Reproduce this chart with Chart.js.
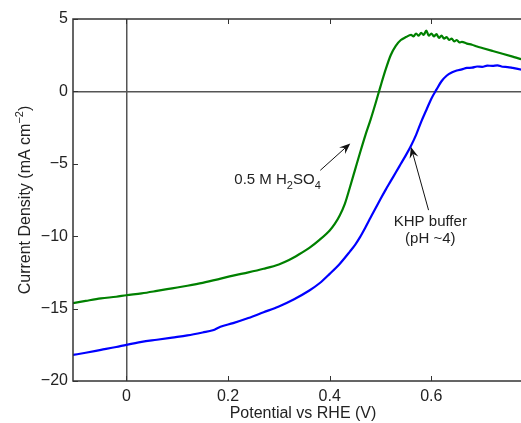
<!DOCTYPE html>
<html><head><meta charset="utf-8">
<script src="https://cdn.jsdelivr.net/npm/chart.js@4"></script>
<style>
html,body{margin:0;padding:0;background:#fff;overflow:hidden}
#wrap{width:521px;height:423px;overflow:hidden;position:relative}
canvas{display:block}
</style>
</head><body>
<div id="wrap"><canvas id="c" width="540" height="423"></canvas></div>
<script>
// ---- data ----
const h2so4V = [-0.105,-0.08,-0.05,-0.02,0,0.03,0.06,0.09,0.12,0.15,0.18,0.21,0.24,0.27,0.30,0.32,0.34,0.36,0.38,0.40,0.41,0.42,0.43,0.44,0.45,0.46,0.47,0.48,0.49,0.50,0.51,0.52,0.53,0.54,0.55,0.56,0.565,0.57,0.575,0.58,0.585,0.59,0.595,0.60,0.605,0.61,0.615,0.62,0.625,0.63,0.635,0.64,0.645,0.65,0.655,0.66,0.67,0.68,0.69,0.70,0.72,0.74,0.76,0.78,0.80];
const h2so4J = [-14.62,-14.47,-14.3,-14.18,-14.08,-13.95,-13.78,-13.6,-13.42,-13.22,-12.98,-12.72,-12.5,-12.25,-11.95,-11.65,-11.25,-10.8,-10.25,-9.6,-9.15,-8.55,-7.75,-6.6,-5.4,-4.2,-3.05,-2.0,-0.85,0.35,1.5,2.5,3.15,3.55,3.75,3.9,3.8,4.0,3.85,4.05,3.9,4.2,3.85,4.0,3.8,3.95,3.7,3.85,3.65,3.75,3.55,3.65,3.45,3.55,3.38,3.42,3.3,3.22,3.1,3.0,2.8,2.6,2.4,2.2,2.05];
const khpV = [-0.105,-0.08,-0.05,-0.02,0,0.03,0.06,0.09,0.12,0.15,0.17,0.185,0.21,0.24,0.27,0.30,0.33,0.36,0.38,0.40,0.42,0.44,0.45,0.46,0.47,0.48,0.49,0.50,0.51,0.52,0.53,0.54,0.55,0.56,0.57,0.58,0.59,0.60,0.61,0.62,0.63,0.64,0.65,0.66,0.67,0.68,0.69,0.70,0.71,0.72,0.73,0.74,0.75,0.76,0.78,0.80];
const khpJ = [-18.2,-18.05,-17.85,-17.65,-17.5,-17.3,-17.15,-17.0,-16.85,-16.65,-16.5,-16.25,-16.0,-15.65,-15.25,-14.85,-14.35,-13.75,-13.25,-12.6,-11.9,-11.05,-10.6,-10.05,-9.42,-8.75,-8.08,-7.43,-6.8,-6.2,-5.6,-5.0,-4.4,-3.75,-3.0,-2.1,-1.3,-0.5,0.12,0.7,1.08,1.3,1.44,1.52,1.62,1.64,1.72,1.70,1.78,1.76,1.8,1.7,1.68,1.62,1.48,1.32];
const xTicks = [0, 0.2, 0.4, 0.6];
const yTicks = [-20, -15, -10, -5, 0, 5];
const xTitle = 'Potential vs RHE (V)';
const yTitleMain = 'Current Density (mA cm';
const yTitleSup = '\u22122';
const yTitleEnd = ')';

// ---- annotation placement (data units) ----
const labels = [
  {parts:[['0.5 M H',0],['2',1],['SO',0],['4',1]], x:0.2124, y:-6.41, align:'left'},
  {parts:[['KHP buffer',0]], x:0.598, y:-9.31, align:'center'},
  {parts:[['(pH ~4)',0]], x:0.598, y:-10.46, align:'center'}
];
const arrows = [
  {from:[0.3815,-5.45], to:[0.4405,-3.59]},
  {from:[0.5945,-8.2], to:[0.56,-3.84]}
];

const FONT = '"Liberation Sans", Arial, Helvetica, sans-serif';
const TXT = '#222';

const fmtX = v => v === 0 ? '0' : v.toFixed(1);
const fmtY = v => v < 0 ? '\u2212' + Math.abs(v) : String(v);

const frame = {
  id: 'frame',
  afterDraw(chart) {
    const {ctx, chartArea: a, scales: {x, y}} = chart;
    ctx.save();
    ctx.strokeStyle = '#333'; ctx.lineWidth = 1.5;
    ctx.strokeRect(a.left, a.top, a.right - a.left, a.bottom - a.top);
    ctx.beginPath();
    x.ticks.forEach(t => {
      const p = Math.round(x.getPixelForValue(t.value)) + 0.5;
      ctx.moveTo(p, a.bottom); ctx.lineTo(p, a.bottom - 5);
      ctx.moveTo(p, a.top); ctx.lineTo(p, a.top + 5);
    });
    y.ticks.forEach(t => {
      const p = Math.round(y.getPixelForValue(t.value)) + 0.5;
      ctx.moveTo(a.left, p); ctx.lineTo(a.left + 5, p);
      ctx.moveTo(a.right, p); ctx.lineTo(a.right - 5, p);
    });
    ctx.lineWidth = 1; ctx.stroke();

    const big = '16px ' + FONT, small = '11px ' + FONT;
    ctx.fillStyle = TXT;
    ctx.font = big; const w1 = ctx.measureText(yTitleMain).width; const w3 = ctx.measureText(yTitleEnd).width;
    ctx.font = small; const w2 = ctx.measureText(yTitleSup).width;
    const tot = w1 + w2 + w3;
    ctx.translate(26, (a.top + a.bottom) / 2);
    ctx.rotate(-Math.PI / 2);
    ctx.textBaseline = 'middle'; ctx.textAlign = 'left';
    let cx = -tot / 2;
    ctx.font = big; ctx.fillText(yTitleMain, cx, 0); cx += w1;
    ctx.font = small; ctx.fillText(yTitleSup, cx, -6); cx += w2;
    ctx.font = big; ctx.fillText(yTitleEnd, cx, 0);
    ctx.setTransform(1, 0, 0, 1, 0, 0);

    ctx.textBaseline = 'alphabetic';
    labels.forEach(l => {
      const fonts = l.parts.map(p => (p[1] ? '11px ' : '15px ') + FONT);
      let total = 0;
      const ws = l.parts.map((p, i) => { ctx.font = fonts[i]; const w = ctx.measureText(p[0]).width; total += w; return w; });
      let px = x.getPixelForValue(l.x);
      const py = y.getPixelForValue(l.y);
      if (l.align === 'center') px -= total / 2;
      ctx.textAlign = 'left';
      l.parts.forEach((p, i) => {
        ctx.font = fonts[i];
        ctx.fillText(p[0], px, py + (p[1] ? 5 : 0));
        px += ws[i];
      });
    });

    ctx.strokeStyle = '#111'; ctx.fillStyle = '#111'; ctx.lineWidth = 1;
    arrows.forEach(ar => {
      const x0 = x.getPixelForValue(ar.from[0]), y0 = y.getPixelForValue(ar.from[1]);
      const x1 = x.getPixelForValue(ar.to[0]), y1 = y.getPixelForValue(ar.to[1]);
      const ang = Math.atan2(y1 - y0, x1 - x0);
      const L = 11, W = 4.5, N = 7;
      const ux = Math.cos(ang), uy = Math.sin(ang);
      ctx.beginPath(); ctx.moveTo(x0, y0); ctx.lineTo(x1 - ux * N, y1 - uy * N); ctx.stroke();
      ctx.beginPath();
      ctx.moveTo(x1, y1);
      ctx.lineTo(x1 - ux * L - uy * W, y1 - uy * L + ux * W);
      ctx.lineTo(x1 - ux * N, y1 - uy * N);
      ctx.lineTo(x1 - ux * L + uy * W, y1 - uy * L - ux * W);
      ctx.closePath(); ctx.fill();
    });
    ctx.restore();
  }
};

const zeroGrid = c => (c.tick && c.tick.value === 0) ? '#555' : 'rgba(0,0,0,0)';

new Chart(document.getElementById('c'), {
  type: 'line',
  data: {
    datasets: [
      {label: '0.5 M H2SO4', data: h2so4V.map((v, i) => ({x: v, y: h2so4J[i]})),
       borderColor: '#008000', borderWidth: 2.2, pointRadius: 0, cubicInterpolationMode: 'monotone', fill: false},
      {label: 'KHP buffer (pH ~4)', data: khpV.map((v, i) => ({x: v, y: khpJ[i]})),
       borderColor: '#0000ff', borderWidth: 2.2, pointRadius: 0, cubicInterpolationMode: 'monotone', fill: false}
    ]
  },
  options: {
    responsive: false, devicePixelRatio: 1, animation: false,
    layout: {padding: {top: 19, right: 7, left: 0, bottom: 0}},
    plugins: {legend: {display: false}, tooltip: {enabled: false}},
    scales: {
      x: {
        type: 'linear', min: -0.105, max: 0.8,
        afterBuildTicks: s => { s.ticks = xTicks.map(v => ({value: v})); },
        afterFit: s => { s.height = 42; },
        ticks: {callback: v => fmtX(v), color: TXT, font: {family: FONT, size: 16}, padding: 6, maxRotation: 0, autoSkip: false},
        grid: {color: zeroGrid, lineWidth: 1.5, drawTicks: false},
        border: {display: false},
        title: {display: true, text: xTitle, color: TXT, font: {family: FONT, size: 16}, padding: {top: 0, bottom: 0}}
      },
      y: {
        type: 'linear', min: -20, max: 5,
        afterBuildTicks: s => { s.ticks = yTicks.map(v => ({value: v})); },
        afterFit: s => { s.width = 73; },
        ticks: {callback: v => fmtY(v), color: TXT, font: {family: FONT, size: 16}, padding: 5, autoSkip: false},
        grid: {color: zeroGrid, lineWidth: 1.5, drawTicks: false},
        border: {display: false}
      }
    }
  },
  plugins: [frame]
});
</script>
</body></html>
